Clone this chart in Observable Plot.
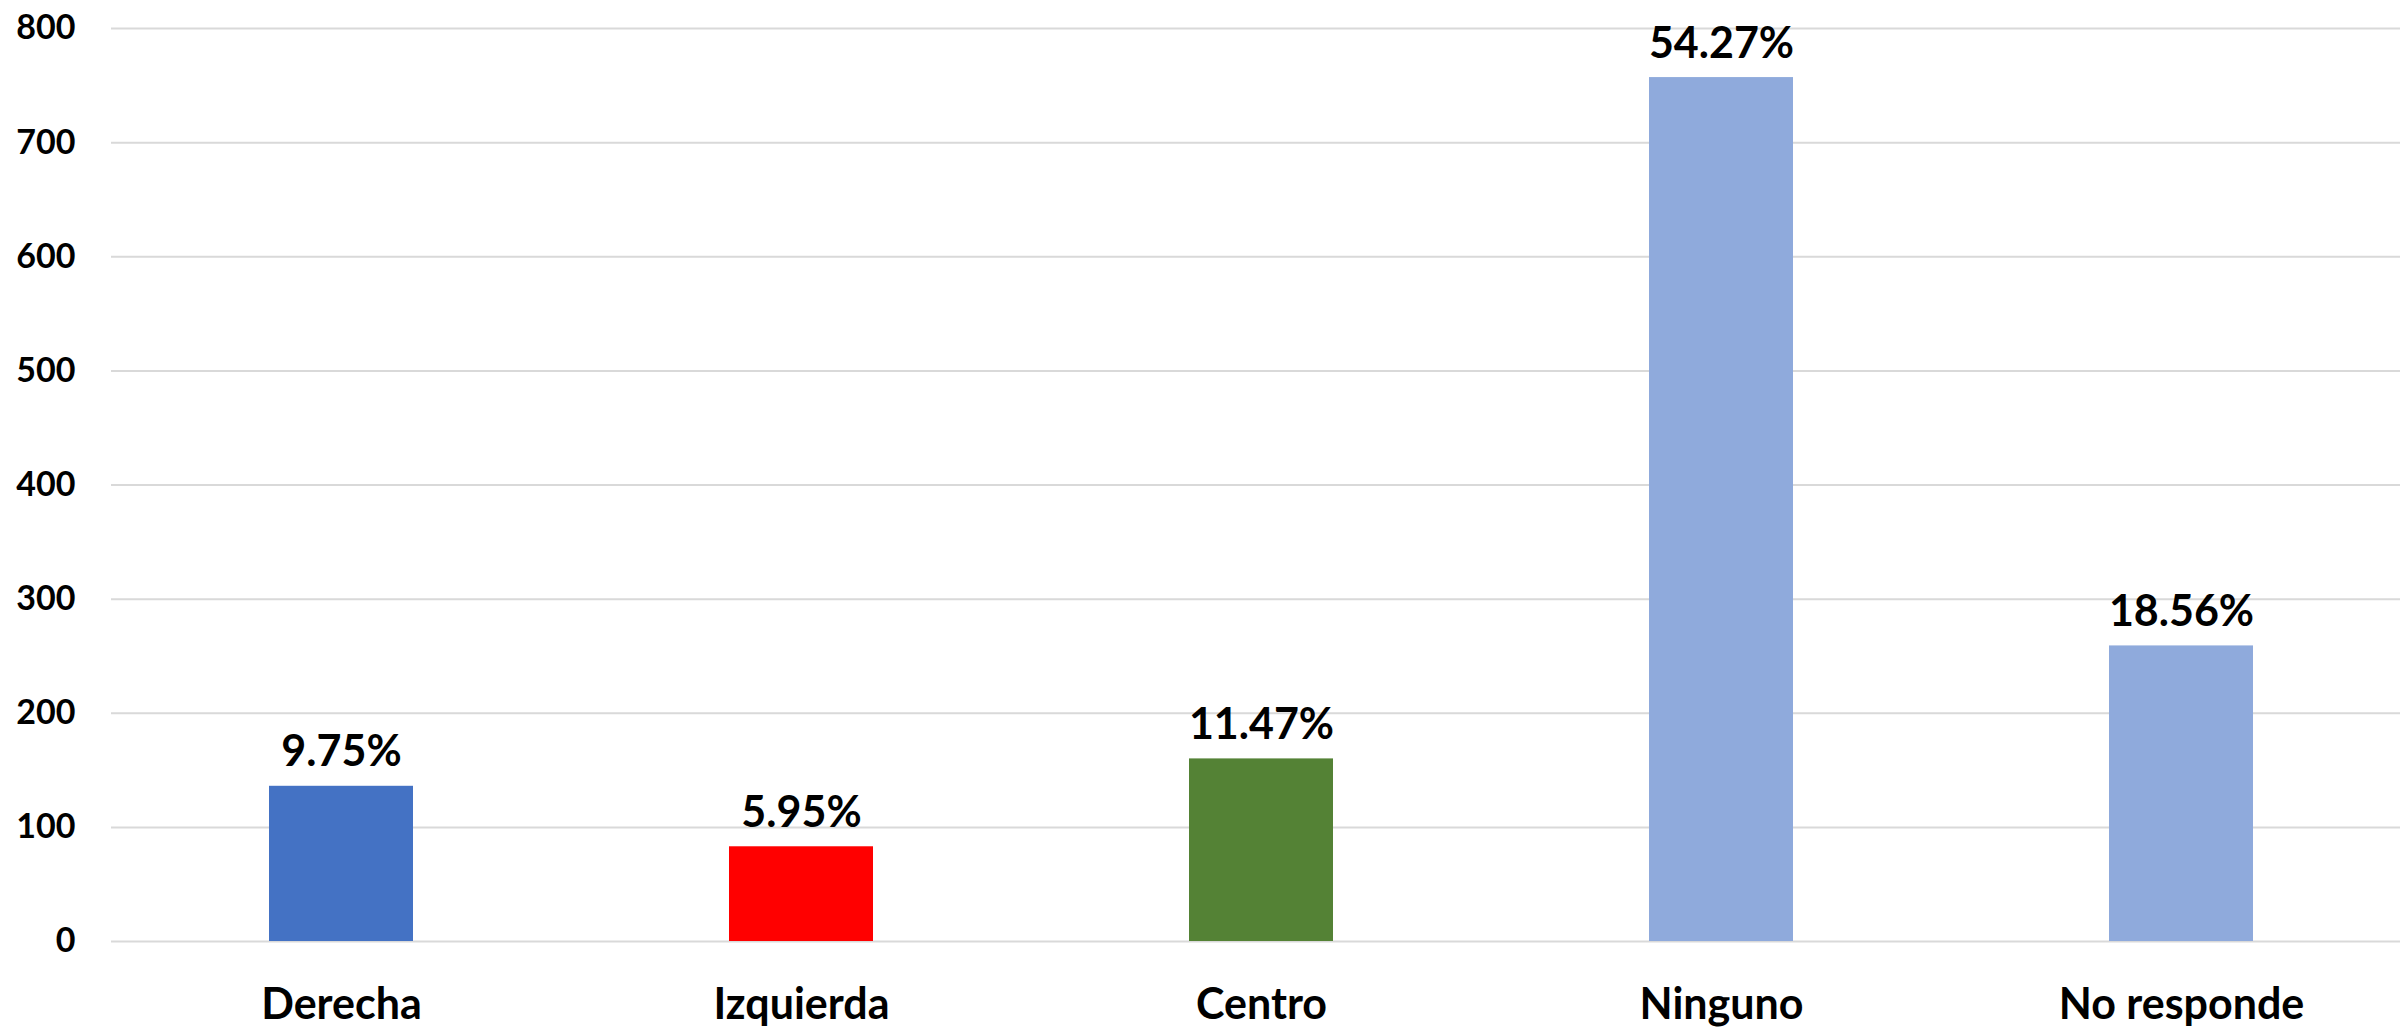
<!DOCTYPE html>
<html>
<head>
<meta charset="utf-8">
<script src="https://cdn.jsdelivr.net/npm/d3@7"></script>
<script src="https://cdn.jsdelivr.net/npm/@observablehq/plot@0.6"></script>
<style>
  html, body { margin: 0; padding: 0; background: #ffffff; }
  #chart svg { display: block; }
</style>
</head>
<body>
<div id="chart"></div>
<script>
const categories = ["Derecha", "Izquierda", "Centro", "Ninguno", "No responde"];
const counts = [136, 83, 160, 757, 259];
const percentLabels = ["9.75%", "5.95%", "11.47%", "54.27%", "18.56%"];
const barColors = ["#4472C4", "#FF0000", "#548235", "#8FAADC", "#8FAADC"];
const yTicks = [0, 100, 200, 300, 400, 500, 600, 700, 800];

const data = categories.map((c, i) => ({
  category: c,
  count: counts[i],
  label: percentLabels[i],
  color: barColors[i]
}));

const chart = Plot.plot({
  width: 2400,
  height: 1027,
  marginLeft: 111,
  marginRight: 0,
  marginTop: 28,
  marginBottom: 86,
  style: { fontFamily: "Lato, 'Open Sans', sans-serif", fontWeight: "bold", color: "#000", background: "#fff" },
  x: { domain: categories, range: [111, 2411], paddingInner: 0.687, paddingOuter: 0.3435, label: null },
  y: { domain: [0, 800], label: null },
  color: { type: "identity" },
  marks: [
    Plot.ruleY(yTicks, { stroke: "#D9D9D9", strokeWidth: 2 }),
    Plot.barY(data, { x: "category", y: "count", fill: "color" }),
    Plot.text(data, { x: "category", y: "count", text: "label", lineAnchor: "bottom", dy: -20, fontSize: 43, fontWeight: "bold", fill: "#000" }),
    Plot.axisX({ tickSize: 0, tickPadding: 47, fontSize: 43, fontWeight: "bold", label: null }),
    Plot.axisY({ ticks: yTicks, tickSize: 0, tickPadding: 36, fontSize: 34, fontWeight: "bold", label: null, tickFormat: d => String(d) })
  ]
});
document.getElementById("chart").appendChild(chart);
</script>
</body>
</html>
